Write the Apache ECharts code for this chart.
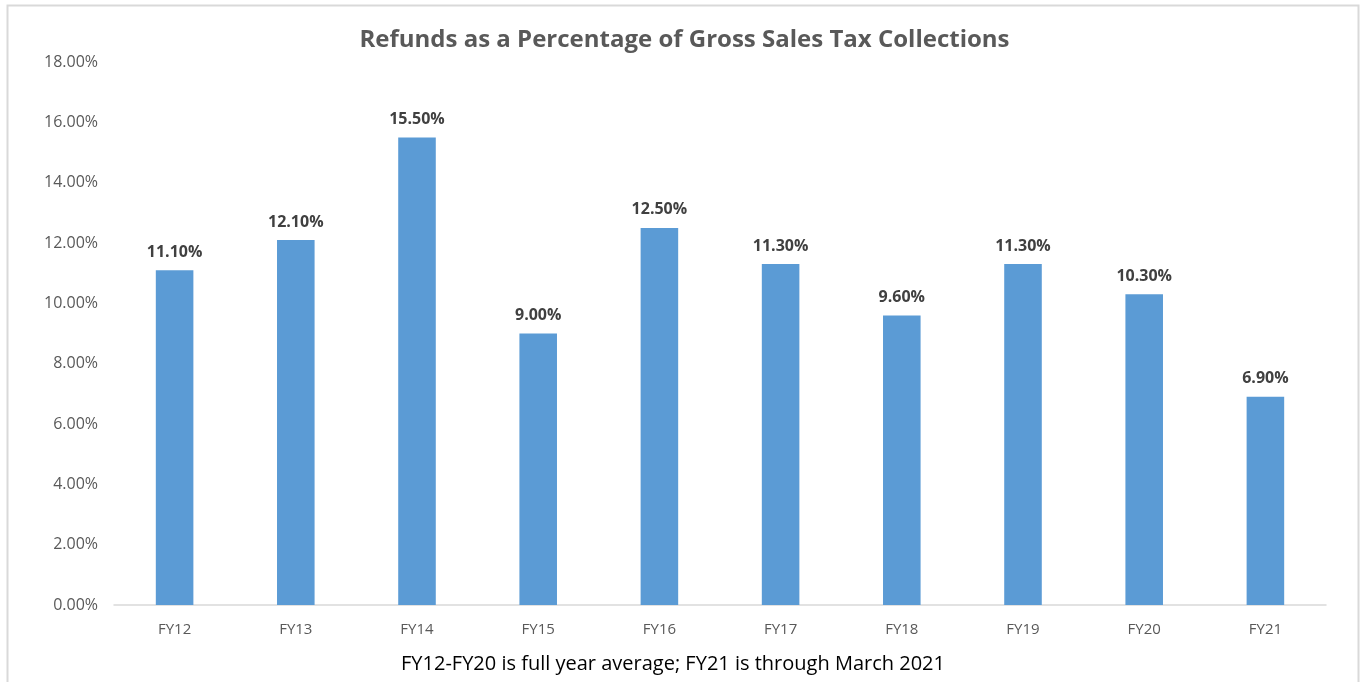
<!DOCTYPE html>
<html>
<head>
<meta charset="utf-8">
<script src="https://cdn.jsdelivr.net/npm/echarts@6/dist/echarts.min.js"></script>
<style>
html,body{margin:0;padding:0;background:#fff;}
#chart{width:1369px;height:682px;}
</style>
</head>
<body>
<div id="chart"></div>
<script>
const categories = ['FY12','FY13','FY14','FY15','FY16','FY17','FY18','FY19','FY20','FY21'];
const refundPct = [11.1, 12.1, 15.5, 9.0, 12.5, 11.3, 9.6, 11.3, 10.3, 6.9];
const yTicks = [0, 2, 4, 6, 8, 10, 12, 14, 16, 18];
const titleText = 'Refunds as a Percentage of Gross Sales Tax Collections';
const footnote = 'FY12-FY20 is full year average; FY21 is through March 2021';

const chart = echarts.init(document.getElementById('chart'));
const font = '"Open Sans", "Liberation Sans", sans-serif';
chart.setOption({
  animation: false,
  backgroundColor: '#fff',
  graphic: [
    { type: 'rect', shape: { x: 7.5, y: 5.5, width: 1351, height: 700 },
      style: { fill: 'none', stroke: '#d9d9d9', lineWidth: 2 } },
    { type: 'text', x: 673, y: 664,
      style: { text: footnote, font: '20px ' + font, fill: '#000',
        textAlign: 'center', textVerticalAlign: 'middle' } }
  ],
  title: {
    text: titleText, left: 'center', top: 23,
    textStyle: { fontFamily: font, fontSize: 24, fontWeight: 'bold', color: '#595959' }
  },
  grid: { left: 114, right: 43, top: 62, bottom: 77 },
  xAxis: {
    type: 'category', data: categories,
    axisLine: { lineStyle: { color: '#d9d9d9', width: 1.5 } },
    axisTick: { show: false },
    axisLabel: { color: '#595959', fontSize: 15, fontFamily: font, margin: 17 }
  },
  yAxis: {
    type: 'value', min: yTicks[0], max: yTicks[yTicks.length - 1], interval: 2,
    splitLine: { show: false },
    axisLine: { show: false }, axisTick: { show: false },
    axisLabel: { color: '#595959', fontSize: 16, fontFamily: font, margin: 16,
      formatter: v => v.toFixed(2) + '%' }
  },
  series: [{
    type: 'bar', data: refundPct, barWidth: '31%',
    itemStyle: { color: '#5b9bd5' },
    label: { show: true, position: 'top', distance: 10,
      formatter: p => p.value.toFixed(2) + '%',
      color: '#404040', fontWeight: 'bold', fontSize: 16, fontFamily: font }
  }]
});
</script>
</body>
</html>
